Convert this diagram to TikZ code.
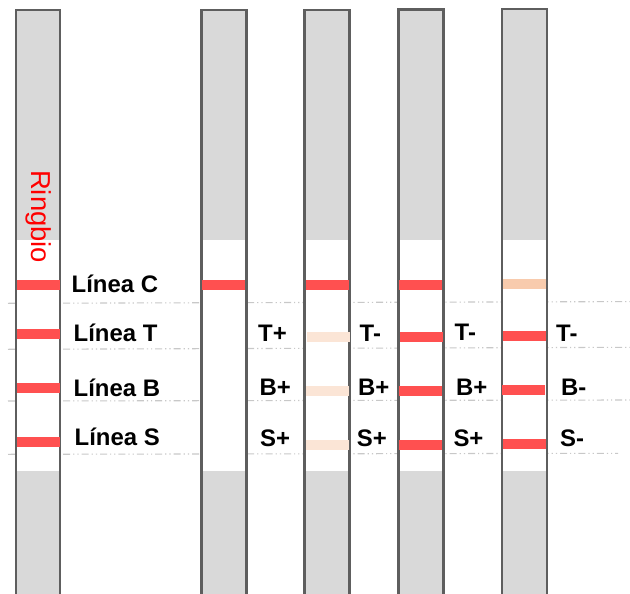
\documentclass[tikz,border=0pt]{standalone}
\usepackage{fontspec}
\setmainfont{Liberation Sans}
\definecolor{bandred}{HTML}{FF5050}
\definecolor{bandpale}{HTML}{FBE5D6}
\definecolor{bandpeach}{HTML}{F8CBAD}
\definecolor{stripgray}{HTML}{D9D9D9}
\definecolor{stripedge}{HTML}{5E5E5E}
\definecolor{guide}{HTML}{C8C8C8}
\tikzset{
  lbl/.style={anchor=base west, inner sep=0pt, font=\fontsize{24}{26}\selectfont\bfseries},
  guideline/.style={draw=guide, line width=1.1bp, dash pattern=on 7bp off 3bp on 1.2bp off 3bp on 1.2bp off 3bp},
  edge/.style={draw=stripedge, line width=2.2bp},
}
\newcommand{\mystrip}[3]{% x1, x2, top
  \fill[white] (#1,#3) rectangle (#2,600);
  \fill[stripgray] (#1,#3) rectangle (#2,240);
  \fill[stripgray] (#1,471) rectangle (#2,600);
  \draw[edge] (#1,600) -- (#1,#3) -- (#2,#3) -- (#2,600);
}
\newcommand{\myband}[5]{% color, x1, x2, y1, y2
  \fill[#1] (#2,#4) rectangle (#3,#5);
}
\begin{document}
\begin{tikzpicture}[x=1bp, y=-1bp]
\useasboundingbox (0,0) rectangle (630,594);
\clip (0,0) rectangle (630,594);
\fill[white] (0,0) rectangle (630,594);
% guide lines
\draw[guideline] (8,303.3) -- (630,301.6);
\draw[guideline] (8,349.3) -- (630,347.3);
\draw[guideline] (8,401) -- (630,400);
\draw[guideline] (8,454.3) -- (618,453.3);
% strips
\mystrip{16}{60}{10}
\mystrip{201.5}{246.5}{10}
\mystrip{304.5}{349.5}{10}
\mystrip{398.5}{443.5}{9.5}
\mystrip{501.8}{547}{8.7}
% bands strip 1
\myband{bandred}{17}{60}{280}{289.5}
\myband{bandred}{17}{60}{329}{339}
\myband{bandred}{17}{60}{383.3}{392.8}
\myband{bandred}{17}{60}{437.3}{447}
% strip 2
\myband{bandred}{201.7}{245}{280}{290}
% strip 3
\myband{bandred}{305.7}{349.3}{280}{290}
\myband{bandpale}{306.7}{350}{332.3}{341.7}
\myband{bandpale}{305.7}{349.3}{385.7}{395.7}
\myband{bandpale}{305.7}{349.3}{440}{450}
% strip 4
\myband{bandred}{399}{441.7}{280}{289.7}
\myband{bandred}{400}{443}{332}{342}
\myband{bandred}{399}{441.7}{385.7}{395.7}
\myband{bandred}{399}{441.7}{440}{450}
% strip 5
\myband{bandpeach}{503.3}{546}{279}{289}
\myband{bandred}{503.3}{546}{331}{340.7}
\myband{bandred}{502.3}{545}{385}{395}
\myband{bandred}{503.3}{546}{439}{449.3}
% brand
\node[rotate=-90, anchor=base west, inner sep=0pt, text=red, font=\fontsize{27.5}{30}\selectfont] (brand) at (31,170) {Ringbio};
% labels strip 1
\node[lbl] (lc) at (71.5,292.3) {Línea C};
\node[lbl] (lt) at (73.5,341.7) {Línea T};
\node[lbl] (lb) at (73.5,396) {Línea B};
\node[lbl] (ls) at (74.5,445.7) {Línea S};
% strip 2
\node[lbl] (t2) at (258,341.7) {T+};
\node[lbl] (b2) at (259.5,395.7) {B+};
\node[lbl] (s2) at (260,446.7) {S+};
% strip 3
\node[lbl] (t3) at (359.5,341.7) {T-};
\node[lbl] (b3) at (358,395.7) {B+};
\node[lbl] (s3) at (356.7,446.7) {S+};
% strip 4
\node[lbl] (t4) at (454.5,340.7) {T-};
\node[lbl] (b4) at (456,395.7) {B+};
\node[lbl] (s4) at (453.3,446.7) {S+};
% strip 5
\node[lbl] (t5) at (556,341.2) {T-};
\node[lbl] (b5) at (561,395) {B-};
\node[lbl] (s5) at (560,446.7) {S-};
\end{tikzpicture}
\end{document}
